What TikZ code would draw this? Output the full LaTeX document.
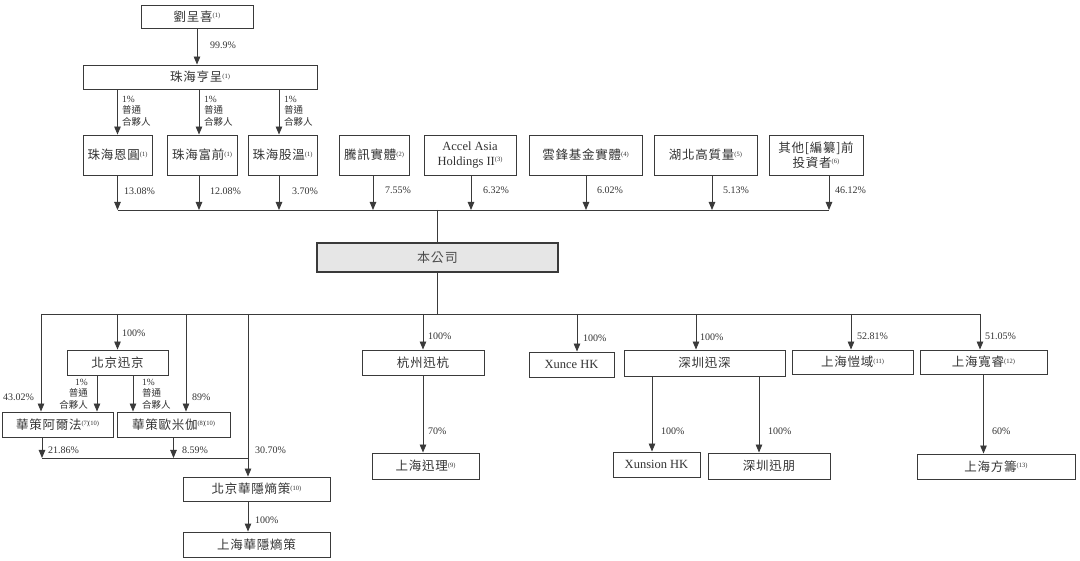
\documentclass[tikz,border=0pt]{standalone}
\usepackage{fontspec}
\setmainfont{Liberation Serif}
\newfontfamily\cjk[LetterSpace=6]{Noto Sans CJK TC}
\newfontfamily\cjks{Noto Sans CJK TC}
\usetikzlibrary{arrows.meta}
\definecolor{ln}{HTML}{3a3a3a}
\definecolor{txt}{HTML}{333333}
\definecolor{cofill}{HTML}{E6E6E6}
\newcommand\fnote[1]{{\rmfamily\fontsize{6.5}{7}\selectfont\raisebox{3.5pt}{(#1)}}}
\begin{document}
\begin{tikzpicture}[x=1pt,y=-1pt,
  box/.style={draw=ln, line width=0.9pt, inner sep=0pt, text=txt, align=center,
    font=\cjk\fontsize{12.5}{14}\selectfont},
  lbox/.style={box, font=\rmfamily\fontsize{12.5}{14}\selectfont},
  arr/.style={draw=ln, line width=0.9pt, -{Triangle[width=6.5pt,length=8pt]}},
  ln/.style={draw=ln, line width=0.9pt},
  pct/.style={anchor=west, inner sep=0pt, text=txt, font=\rmfamily\fontsize{10}{10}\selectfont},
  gp/.style={inner sep=0pt, text=txt, font=\cjks\fontsize{9.5}{11.5}\selectfont}]
\useasboundingbox (0,0) rectangle (1080,561);

% ---------- boxes ----------
\node[box, minimum width=112, minimum height=23] (liu) at (197,16.5) {劉呈喜\fnote{1}};
\node[box, minimum width=234, minimum height=24] (hc) at (200,77) {珠海亨呈\fnote{1}};
\node[box, minimum width=69, minimum height=40] (eny) at (117.5,155) {珠海恩圓\fnote{1}};
\node[box, minimum width=70, minimum height=40] (fq) at (202,155) {珠海富前\fnote{1}};
\node[box, minimum width=69, minimum height=40] (gw) at (282.5,155) {珠海股溫\fnote{1}};
\node[box, minimum width=70, minimum height=40] (tx) at (374,155) {騰訊實體\fnote{2}};
\node[lbox, minimum width=92, minimum height=40, font=\rmfamily\fontsize{12.5}{15}\selectfont] (accel) at (470,155) {Accel Asia\\Holdings II\fnote{3}};
\node[box, minimum width=113, minimum height=40] (yf) at (585.5,155) {雲鋒基金實體\fnote{4}};
\node[box, minimum width=103, minimum height=40] (hb) at (705.5,155) {湖北高質量\fnote{5}};
\node[box, minimum width=94, minimum height=40, font=\cjk\fontsize{12.5}{15}\selectfont] (qt) at (816,155) {其他[編纂]前\\投資者\fnote{6}};

\node[box, line width=1.4pt, fill=cofill, text=black!70, minimum width=241, minimum height=29, font=\cjk\fontsize{13}{14}\selectfont] (co) at (437.5,257.5) {本公司};

\node[box, minimum width=101, minimum height=25] (xj) at (117.5,362.5) {北京迅京};
\node[box, minimum width=111, minimum height=25] (alpha) at (57.5,424.5) {華策阿爾法\fnote{7}\kern-1pt\fnote{10}};
\node[box, minimum width=113, minimum height=25] (omega) at (173.5,424.5) {華策歐米伽\fnote{8}\kern-1pt\fnote{10}};
\node[box, minimum width=147, minimum height=24] (hyb) at (256.5,489) {北京華隱熵策\fnote{10}};
\node[box, minimum width=147, minimum height=25] (hys) at (256.5,544.5) {上海華隱熵策};
\node[box, minimum width=122, minimum height=25] (hz) at (423,362.5) {杭州迅杭};
\node[box, minimum width=107, minimum height=26] (shl) at (425.5,466) {上海迅理\fnote{9}};
\node[lbox, minimum width=85, minimum height=25] (xce) at (571.5,364.5) {Xunce HK};
\node[box, minimum width=161, minimum height=26] (szs) at (704.5,363) {深圳迅深};
\node[lbox, minimum width=87, minimum height=25] (xsn) at (656.5,464.5) {Xunsion HK};
\node[box, minimum width=122, minimum height=26] (szp) at (769,466) {深圳迅朋};
\node[box, minimum width=121, minimum height=24] (kaiy) at (852.5,362) {上海愷域\fnote{11}};
\node[box, minimum width=127, minimum height=24] (kr) at (983.5,362) {上海寬睿\fnote{12}};
\node[box, minimum width=158, minimum height=25] (fc) at (996,466.5) {上海方籌\fnote{13}};

% ---------- bus coordinates ----------
\coordinate (busT) at (0,210);
\coordinate (busB) at (0,314);
\coordinate (busM) at (0,458);

% ---------- upper connectors ----------
\draw[arr] (liu.south) -- (liu.south |- hc.north);
\draw[arr] (eny.north |- hc.south) -- (eny.north);
\draw[arr] ([xshift=-3]fq.north |- hc.south) -- ([xshift=-3]fq.north);
\draw[arr] ([xshift=-3.5]gw.north |- hc.south) -- ([xshift=-3.5]gw.north);

\draw[arr] (eny.south) -- (eny.south |- busT);
\draw[arr] ([xshift=-3]fq.south) -- ([xshift=-3]fq.south |- busT);
\draw[arr] ([xshift=-3.5]gw.south) -- ([xshift=-3.5]gw.south |- busT);
\draw[arr] ([xshift=-1]tx.south) -- ([xshift=-1]tx.south |- busT);
\draw[arr] ([xshift=1]accel.south) -- ([xshift=1]accel.south |- busT);
\draw[arr] ([xshift=0.5]yf.south) -- ([xshift=0.5]yf.south |- busT);
\draw[arr] ([xshift=6.5]hb.south) -- ([xshift=6.5]hb.south |- busT);
\draw[arr] ([xshift=13]qt.south) -- ([xshift=13]qt.south |- busT);
\draw[ln] (eny.south |- busT) -- ([xshift=13]qt.south |- busT);
\draw[ln] (co.north |- busT) -- (co.north);

% ---------- lower connectors ----------
\draw[ln] (co.south) -- (co.south |- busB);
\draw[ln] ([xshift=-16.5]alpha.north |- busB) -- ([xshift=-3.5]kr.north |- busB);
\draw[arr] ([xshift=-16.5]alpha.north |- busB) -- ([xshift=-16.5]alpha.north);
\draw[arr] (xj.north |- busB) -- (xj.north);
\draw[arr] ([xshift=12.5]omega.north |- busB) -- ([xshift=12.5]omega.north);
\draw[arr] ([xshift=-8.5]hyb.north |- busB) -- ([xshift=-8.5]hyb.north);
\draw[arr] (hz.north |- busB) -- (hz.north);
\draw[arr] ([xshift=5.5]xce.north |- busB) -- ([xshift=5.5]xce.north);
\draw[arr] ([xshift=-8.5]szs.north |- busB) -- ([xshift=-8.5]szs.north);
\draw[arr] ([xshift=-1.5]kaiy.north |- busB) -- ([xshift=-1.5]kaiy.north);
\draw[arr] ([xshift=-3.5]kr.north |- busB) -- ([xshift=-3.5]kr.north);

\draw[arr] ([xshift=-20.5]xj.south) -- ([xshift=-20.5]xj.south |- alpha.north);
\draw[arr] ([xshift=15.5]xj.south) -- ([xshift=15.5]xj.south |- omega.north);
\draw[arr] ([xshift=-15.5]alpha.south) -- ([xshift=-15.5]alpha.south |- busM);
\draw[arr] (omega.south) -- (omega.south |- busM);
\draw[ln] ([xshift=-15.5]alpha.south |- busM) -- ([xshift=-8.5]hyb.north |- busM);

\draw[arr] ([xshift=-8.5]hyb.south) -- ([xshift=-8.5]hys.north);
\draw[arr] (hz.south) -- (hz.south |- shl.north);
\draw[arr] ([xshift=-4.5]xsn.north |- szs.south) -- ([xshift=-4.5]xsn.north);
\draw[arr] ([xshift=-10]szp.north |- szs.south) -- ([xshift=-10]szp.north);
\draw[arr] (kr.south) -- (kr.south |- fc.north);

% ---------- labels ----------
\node[pct] (p1) at (210,45) {99.9\%};
\node[gp, anchor=west, align=left] (g1) at (122,111) {{\rmfamily 1\%}\\普通\\合夥人};
\node[gp, anchor=west, align=left] (g2) at (204,111) {{\rmfamily 1\%}\\普通\\合夥人};
\node[gp, anchor=west, align=left] (g3) at (284,111) {{\rmfamily 1\%}\\普通\\合夥人};

\node[pct] (p2) at (124,191) {13.08\%};
\node[pct] (p3) at (210,191) {12.08\%};
\node[pct] (p4) at (292,191) {3.70\%};
\node[pct] (p5) at (385,190) {7.55\%};
\node[pct] (p6) at (483,190) {6.32\%};
\node[pct] (p7) at (597,190) {6.02\%};
\node[pct] (p8) at (723,190) {5.13\%};
\node[pct] (p9) at (835,190) {46.12\%};

\node[pct] (q1) at (122,333) {100\%};
\node[pct] (q2) at (3,397) {43.02\%};
\node[gp, anchor=east, align=right] (g4) at (88,394) {{\rmfamily 1\%}\\普通\\合夥人};
\node[gp, anchor=west, align=left] (g5) at (142,394) {{\rmfamily 1\%}\\普通\\合夥人};
\node[pct] (q3) at (192,397) {89\%};
\node[pct] (q4) at (48,450) {21.86\%};
\node[pct] (q5) at (182,450) {8.59\%};
\node[pct] (q6) at (255,450) {30.70\%};
\node[pct] (q7) at (255,520) {100\%};
\node[pct] (q8) at (428,336) {100\%};
\node[pct] (q9) at (428,431) {70\%};
\node[pct] (q10) at (583,338) {100\%};
\node[pct] (q11) at (700,337) {100\%};
\node[pct] (q12) at (661,431) {100\%};
\node[pct] (q13) at (768,431) {100\%};
\node[pct] (q14) at (857,336) {52.81\%};
\node[pct] (q15) at (985,336) {51.05\%};
\node[pct] (q16) at (992,431) {60\%};
\end{tikzpicture}
\end{document}
